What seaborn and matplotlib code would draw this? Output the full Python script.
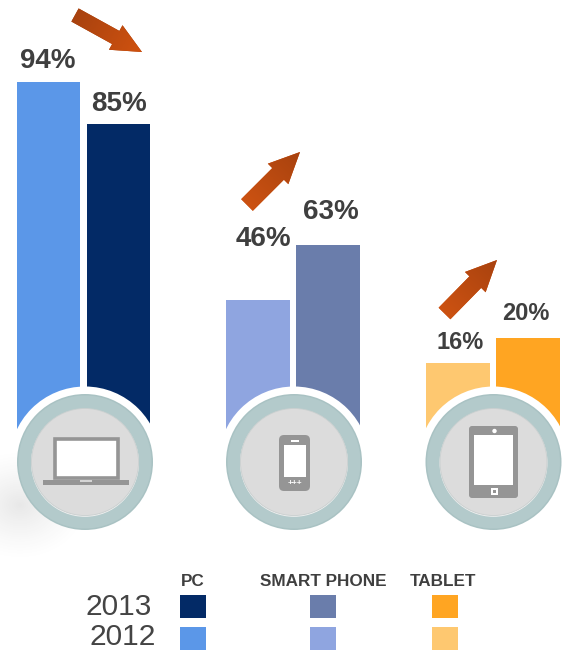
import numpy as np
import pandas as pd
import matplotlib
matplotlib.use("Agg")
import matplotlib.pyplot as plt
from matplotlib.patches import Circle, FancyArrow, FancyBboxPatch, Rectangle
from matplotlib.colors import LinearSegmentedColormap
import seaborn as sns

# ---- data ----
devices = ["PC", "SMART PHONE", "TABLET"]
years = ["2012", "2013"]
labels_2012 = ["94%", "46%", "16%"]
labels_2013 = ["85%", "63%", "20%"]
# drawn bar heights (the artwork is not drawn to scale)
heights_2012 = [380, 162, 99]
heights_2013 = [338, 217, 124]
colors_2012 = ["#5b97e8", "#8fa5e0", "#fec870"]
colors_2013 = ["#032a66", "#6a7dab", "#ffa522"]

# ---- layout (pixel based) ----
W, H = 565, 652
BASE = 462
centers_2012 = [48.5, 258, 458]
centers_2013 = [118.5, 328, 528]
ring_x = [85, 294, 493.5]
label_pos_2012 = [(48, 68), (263, 246), (460, 349)]
label_pos_2013 = [(119, 111), (331, 219), (526, 320)]
label_size_2012 = [20, 20, 17]
label_size_2013 = [20, 20, 17]
header_x = [193, 323, 443]
swatch_x = [180, 310, 432]

sns.set_theme(style="white")
plt.rcParams["font.family"] = ["Liberation Sans", "DejaVu Sans"]
fig = plt.figure(figsize=(W / 100, H / 100), dpi=100, facecolor="white")

# bars
ax = fig.add_axes([0, 1 - BASE / H, 1, BASE / H])
df = pd.DataFrame({
    "pos": centers_2012 + centers_2013,
    "height": heights_2012 + heights_2013,
    "series": [f"{d} {y}" for y in years for d in devices],
})
sns.barplot(data=df, x="pos", y="height", hue="series",
            hue_order=list(df["series"]),
            palette=colors_2012 + colors_2013,
            native_scale=True, dodge=False, width=63.5 / 69.5,
            saturation=1, legend=False, ax=ax, linewidth=0)
ax.set_xlim(0, W)
ax.set_ylim(0, BASE)
ax.axis("off")

# overlay in pixel coordinates
ov = fig.add_axes([0, 0, 1, 1], facecolor="none")
ov.set_xlim(0, W)
ov.set_ylim(H, 0)
ov.axis("off")


def ring(cx):
    cy = 462
    ov.add_patch(Circle((cx, cy), 75.5, fc="white", ec="none", zorder=1))
    ov.add_patch(Circle((cx, cy), 68, fc="#a9c2c3", ec="none", zorder=1.1))
    ov.add_patch(Circle((cx, cy), 66.5, fc="#b3cacb", ec="none", zorder=1.2))
    ov.add_patch(Circle((cx, cy + 0.8), 54, fc="#f0f0f0", ec="none", zorder=1.3))
    ov.add_patch(Circle((cx, cy), 53.5, fc="#dcdcdc", ec="#c9cfcf", lw=0.6, zorder=1.4))


for cx in ring_x:
    ring(cx)

# soft shadow at the left edge, above the white halo but under the ring
gx, gy = np.meshgrid(np.linspace(-70, 70, 200), np.linspace(-70, 70, 200))
blob = np.zeros((200, 200, 4))
blob[..., :3] = 0.55
blob[..., 3] = 0.2 * np.clip(1 - np.hypot(gx / 68, gy / 55), 0, 1) ** 1.3
ov.imshow(blob, extent=(-50, 90, 575, 435), zorder=1.05, aspect="auto")

GR = "#959595"
Z = 2
# laptop
ov.add_patch(Rectangle((55, 439), 62.5, 38.5, fc="white", ec=GR, lw=2.6, zorder=Z))
ov.add_patch(Rectangle((43, 480), 86, 5, fc=GR, ec="none", zorder=Z))
ov.add_patch(Rectangle((80, 480), 12, 2, fc="#d5d5d5", ec="none", zorder=Z + 1))
# phone
ov.add_patch(FancyBboxPatch((283, 439), 23, 48, boxstyle="round,pad=4,rounding_size=5",
                            fc=GR, ec="none", zorder=Z))
ov.add_patch(Rectangle((284, 445), 22, 32, fc="white", ec="none", zorder=Z + 1))
ov.add_patch(Rectangle((291, 440), 8, 2.4, fc="white", ec="none", zorder=Z + 1))
ov.text(294.5, 484, "+++", ha="center", va="center", fontsize=6, color="white",
        fontweight="bold", zorder=Z + 1)
# tablet
ov.add_patch(FancyBboxPatch((472, 429), 43, 66, boxstyle="round,pad=3,rounding_size=3",
                            fc=GR, ec="none", zorder=Z))
ov.add_patch(Rectangle((474, 435), 39, 50, fc="white", ec="none", zorder=Z + 1))
ov.add_patch(Circle((494.5, 431), 2.2, fc="white", ec="none", zorder=Z + 1))
ov.add_patch(Rectangle((490.5, 487.5), 7.5, 7.5, fc="white", ec="none", zorder=Z + 1))
ov.add_patch(Rectangle((493, 490), 2.6, 2.6, fc=GR, ec="none", zorder=Z + 2))


def arrow(tail, tip, c0, c1, shaft=16.5, head=29, head_len=31):
    (x0, y0), (x1, y1) = tail, tip
    p = FancyArrow(x0, y0, x1 - x0, y1 - y0, width=shaft, head_width=head, head_length=head_len,
                   length_includes_head=True, fc=c0, ec="none", zorder=3)
    ov.add_patch(p)
    xs = np.linspace(min(x0, x1) - 15, max(x0, x1) + 15, 120)
    ys = np.linspace(min(y0, y1) - 15, max(y0, y1) + 15, 120)
    gxx, gyy = np.meshgrid(xs, ys)
    dx, dy = x1 - x0, y1 - y0
    t = np.clip(((gxx - x0) * dx + (gyy - y0) * dy) / (dx * dx + dy * dy), 0, 1)
    cm = LinearSegmentedColormap.from_list("a", [c0, c1])
    im = ov.imshow(t, cmap=cm, vmin=0, vmax=1, zorder=3.1, aspect="auto",
                   extent=(xs[0], xs[-1], ys[-1], ys[0]))
    im.set_clip_path(p)


arrow((75, 15), (142, 52), "#a8420f", "#d0520f", shaft=15, head=28, head_len=30)
arrow((247, 205), (300, 152), "#cc5212", "#a8420f")
arrow((444.5, 313.5), (497, 260), "#cc5212", "#a8420f")
ov.set_xlim(0, W)
ov.set_ylim(H, 0)

TXT = "#3f3f3f"
for (x, y), s, fs in zip(label_pos_2012 + label_pos_2013, labels_2012 + labels_2013,
                         label_size_2012 + label_size_2013):
    ov.text(x, y, s, ha="center", va="baseline", fontsize=fs, fontweight="bold", color=TXT, zorder=4)

for x, s in zip(header_x, devices):
    ov.text(x, 586, s, ha="center", va="baseline", fontsize=12.3, fontweight="bold", color=TXT,
            zorder=4)

ov.text(152, 615, years[1], ha="right", va="baseline", fontsize=21.5, color="#444444", zorder=4)
ov.text(156, 645, years[0], ha="right", va="baseline", fontsize=21.5, color="#444444", zorder=4)

for x, c13, c12 in zip(swatch_x, colors_2013, colors_2012):
    ov.add_patch(Rectangle((x, 595), 26, 23, fc=c13, ec="none", zorder=4))
    ov.add_patch(Rectangle((x, 627), 26, 22.5, fc=c12, ec="none", zorder=4))

fig.savefig("out.png", dpi=100, facecolor="white")
